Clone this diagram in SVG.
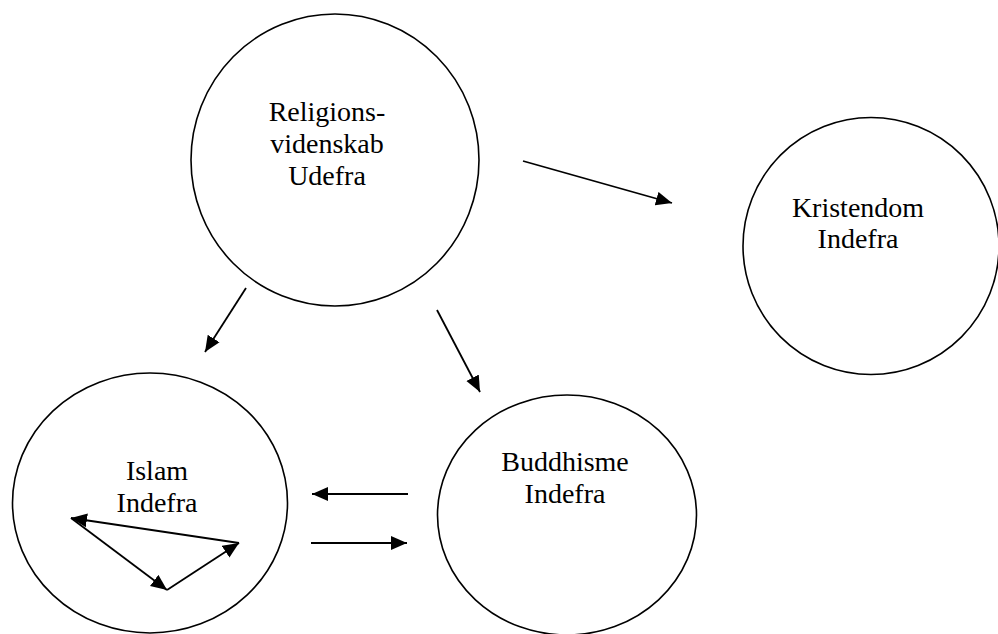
<svg xmlns="http://www.w3.org/2000/svg" width="998" height="634" viewBox="0 0 998 634">
<style>
.node{fill:none;stroke:#000;stroke-width:1.6}
.lbl{font-family:'Liberation Serif','Tinos','DejaVu Serif','Noto Serif',serif;font-size:28px;fill:#000;text-anchor:middle}
.edge{stroke:#000;stroke-width:1.8;fill:none;marker-end:url(#ah)}
</style>
<defs>
<marker id="ah" markerUnits="userSpaceOnUse" markerWidth="17" markerHeight="15" refX="16" refY="7.5" orient="auto">
<path d="M0,0.5 L16,7.5 L0,14.5 Z" fill="#000"/>
</marker>
</defs>
<rect width="998" height="634" fill="#fff"/>
<g id="religionsvidenskab">
<ellipse class="node" cx="335" cy="160" rx="144" ry="146"/>
<text class="lbl" x="327" y="121">Religions-</text>
<text class="lbl" x="327" y="153">videnskab</text>
<text class="lbl" x="327" y="185">Udefra</text>
</g>
<g id="kristendom">
<ellipse class="node" cx="871" cy="246" rx="128" ry="128.5"/>
<text class="lbl" x="858" y="217">Kristendom</text>
<text class="lbl" x="858" y="248">Indefra</text>
</g>
<g id="islam">
<ellipse class="node" cx="150" cy="503" rx="137.5" ry="130"/>
<text class="lbl" x="157" y="480">Islam</text>
<text class="lbl" x="157" y="512">Indefra</text>
</g>
<g id="buddhisme">
<ellipse class="node" cx="567" cy="515" rx="129.5" ry="120"/>
<text class="lbl" x="565" y="471">Buddhisme</text>
<text class="lbl" x="565" y="503">Indefra</text>
</g>
<g id="connectors">
<line class="edge" x1="523" y1="161" x2="672" y2="203"/>
<line class="edge" x1="246" y1="288" x2="205" y2="352"/>
<line class="edge" x1="437" y1="310" x2="480" y2="392"/>
<line class="edge" x1="408" y1="494" x2="312" y2="494"/>
<line class="edge" x1="311" y1="543" x2="407" y2="543"/>
<line class="edge" x1="239" y1="543" x2="71" y2="518"/>
<line class="edge" x1="71" y1="518" x2="167" y2="590"/>
<line class="edge" x1="167" y1="590" x2="239" y2="543"/>
</g>
</svg>
